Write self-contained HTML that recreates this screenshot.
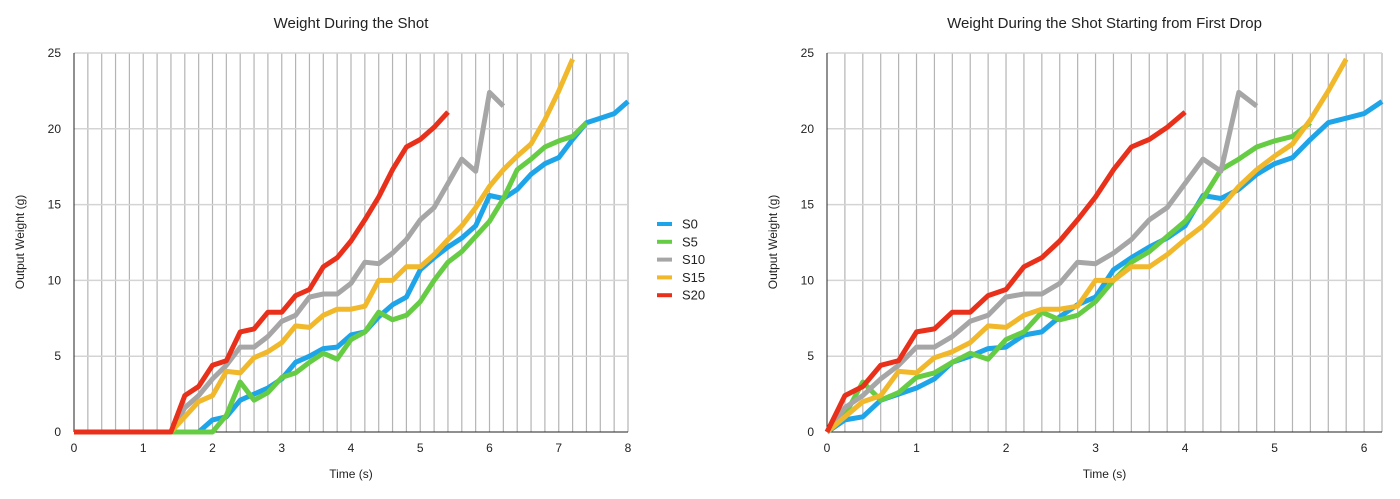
<!DOCTYPE html>
<html><head><meta charset="utf-8"><style>
html,body{margin:0;padding:0;background:#fff;}
svg{display:block;font-family:"Liberation Sans",sans-serif;}
</style></head><body>
<svg id="svg" width="1400" height="499" xmlns="http://www.w3.org/2000/svg"></svg>
<script>
const seriesNames = ["S0","S5","S10","S15","S20"];
const seriesColors = ["#1ea4e9","#66cc44","#a6a6a6","#f0b82a","#e8301a"];
const s0Start = 0;
const s0Values = [0,0,0,0,0,0,0,0,0,0,0.8,1.0,2.1,2.5,2.9,3.5,4.6,5.0,5.5,5.6,6.4,6.6,7.6,8.4,8.9,10.7,11.5,12.2,12.8,13.6,15.6,15.4,16.0,17.0,17.7,18.1,19.3,20.4,20.7,21.0,21.8];
const s5Start = 1.8;
const s5Values = [0,0,1.1,3.3,2.1,2.6,3.6,3.9,4.6,5.2,4.8,6.1,6.6,7.9,7.4,7.7,8.6,10.0,11.2,11.9,12.9,13.9,15.4,17.3,18.0,18.8,19.2,19.5,20.4];
const s10Start = 1.4;
const s10Values = [0,1.6,2.4,3.5,4.4,5.6,5.6,6.3,7.3,7.7,8.9,9.1,9.1,9.8,11.2,11.1,11.8,12.7,14.0,14.8,16.4,18.0,17.2,22.4,21.5];
const s15Start = 1.4;
const s15Values = [0,1.0,2.0,2.4,4.0,3.9,4.9,5.3,5.9,7.0,6.9,7.7,8.1,8.1,8.3,10.0,10.0,10.9,10.9,11.7,12.7,13.6,14.8,16.2,17.3,18.2,19.0,20.6,22.5,24.6];
const s20Start = 1.4;
const s20Values = [0,2.4,3.0,4.4,4.7,6.6,6.8,7.9,7.9,9.0,9.4,10.9,11.5,12.6,14.0,15.5,17.3,18.8,19.3,20.1,21.1];
const dropShift = [1.8,2.0,1.4,1.4,1.4];
const xTicksLeft = [0,1,2,3,4,5,6,7,8];
const xTicksRight = [0,1,2,3,4,5,6];
const yTicks = [0,5,10,15,20,25];

const NS="http://www.w3.org/2000/svg";
const svg=document.getElementById('svg');
function mk(tag,attrs,parent){const e=document.createElementNS(NS,tag);for(const k in attrs)e.setAttribute(k,attrs[k]);(parent||svg).appendChild(e);return e;}
const allStarts=[s0Start,s5Start,s10Start,s15Start,s20Start];
const allVals=[s0Values,s5Values,s10Values,s15Values,s20Values];

function drawChart(cfg){
  const g=mk('g',{});
  
  
  const X=v=>cfg.x0+(v-0)*(cfg.x1-cfg.x0)/cfg.xmax;
  const Y=v=>432-v*(432-53)/25;
  // vertical grid every 0.2
  const n=Math.round(cfg.xmax/0.2);
  for(let i=1;i<=n;i++){const l=mk('line',{x1:X(i*0.2),x2:X(i*0.2),y1:53,y2:432,stroke:'#b4b4b4','stroke-width':1.2},g);
    }
  yTicks.forEach(t=>{if(t===0)return;const l=mk('line',{x1:cfg.x0,x2:cfg.x1,y1:Y(t),y2:Y(t),stroke:'#d4d4d4','stroke-width':1.5},g);
    });
  const ax=mk('line',{x1:cfg.x0,x2:cfg.x0,y1:53,y2:432,stroke:'#222','stroke-width':1},g);
  
  const bx=mk('line',{x1:cfg.x0,x2:cfg.x1,y1:432,y2:432,stroke:'#222','stroke-width':1},g);
  
  yTicks.forEach(t=>{const e=mk('text',{x:cfg.x0-13,y:Y(t)+4,'text-anchor':'end','font-size':12,fill:'#222'},g);e.textContent=t;
    });
  cfg.xt.forEach(t=>{const e=mk('text',{x:X(t),y:452,'text-anchor':'middle','font-size':12,fill:'#222'},g);e.textContent=t;
    });
  for(let s=0;s<5;s++){
    const shift=cfg.shifted?dropShift[s]:0;
    const pts=[];
    allVals[s].forEach((v,i)=>{const t=allStarts[s]+i*0.2-shift;if(t>-1e-6)pts.push(X(t).toFixed(1)+','+Y(v).toFixed(1));});
    if(!cfg.shifted&&allStarts[s]>0)pts.unshift(X(0)+','+Y(0));
    const p=mk('polyline',{points:pts.join(' '),fill:'none',stroke:seriesColors[s],'stroke-width':5,'stroke-linejoin':'round'},g);
    
    
  }
  const tt=mk('text',{x:(cfg.x0+cfg.x1)/2,y:28,'text-anchor':'middle','font-size':15,fill:'#222'},g);tt.textContent=cfg.title;
  
  const xl=mk('text',{x:(cfg.x0+cfg.x1)/2,y:478,'text-anchor':'middle','font-size':12,fill:'#222'},g);xl.textContent='Time (s)';
  
  const yl=mk('text',{x:0,y:0,'text-anchor':'middle','font-size':12,fill:'#222',transform:`translate(${cfg.x0-50},242) rotate(-90)`},g);yl.textContent='Output Weight (g)';
  
}
drawChart({name:'weight-chart',x0:74,x1:628,xmax:8,xt:xTicksLeft,shifted:false,title:'Weight During the Shot'});
drawChart({name:'weight-from-first-drop-chart',x0:827,x1:1382,xmax:6.2,xt:xTicksRight,shifted:true,title:'Weight During the Shot Starting from First Drop'});
const lg=mk('g',{});


seriesNames.forEach((nm,i)=>{const y=224+i*17.8;
  const r=mk('line',{x1:657,x2:672,y1:y,y2:y,stroke:seriesColors[i],'stroke-width':4},lg);
  
  const t=mk('text',{x:682,y:y+4.5,'font-size':13,fill:'#222'},lg);t.textContent=nm;
  });
</script>
</body></html>
